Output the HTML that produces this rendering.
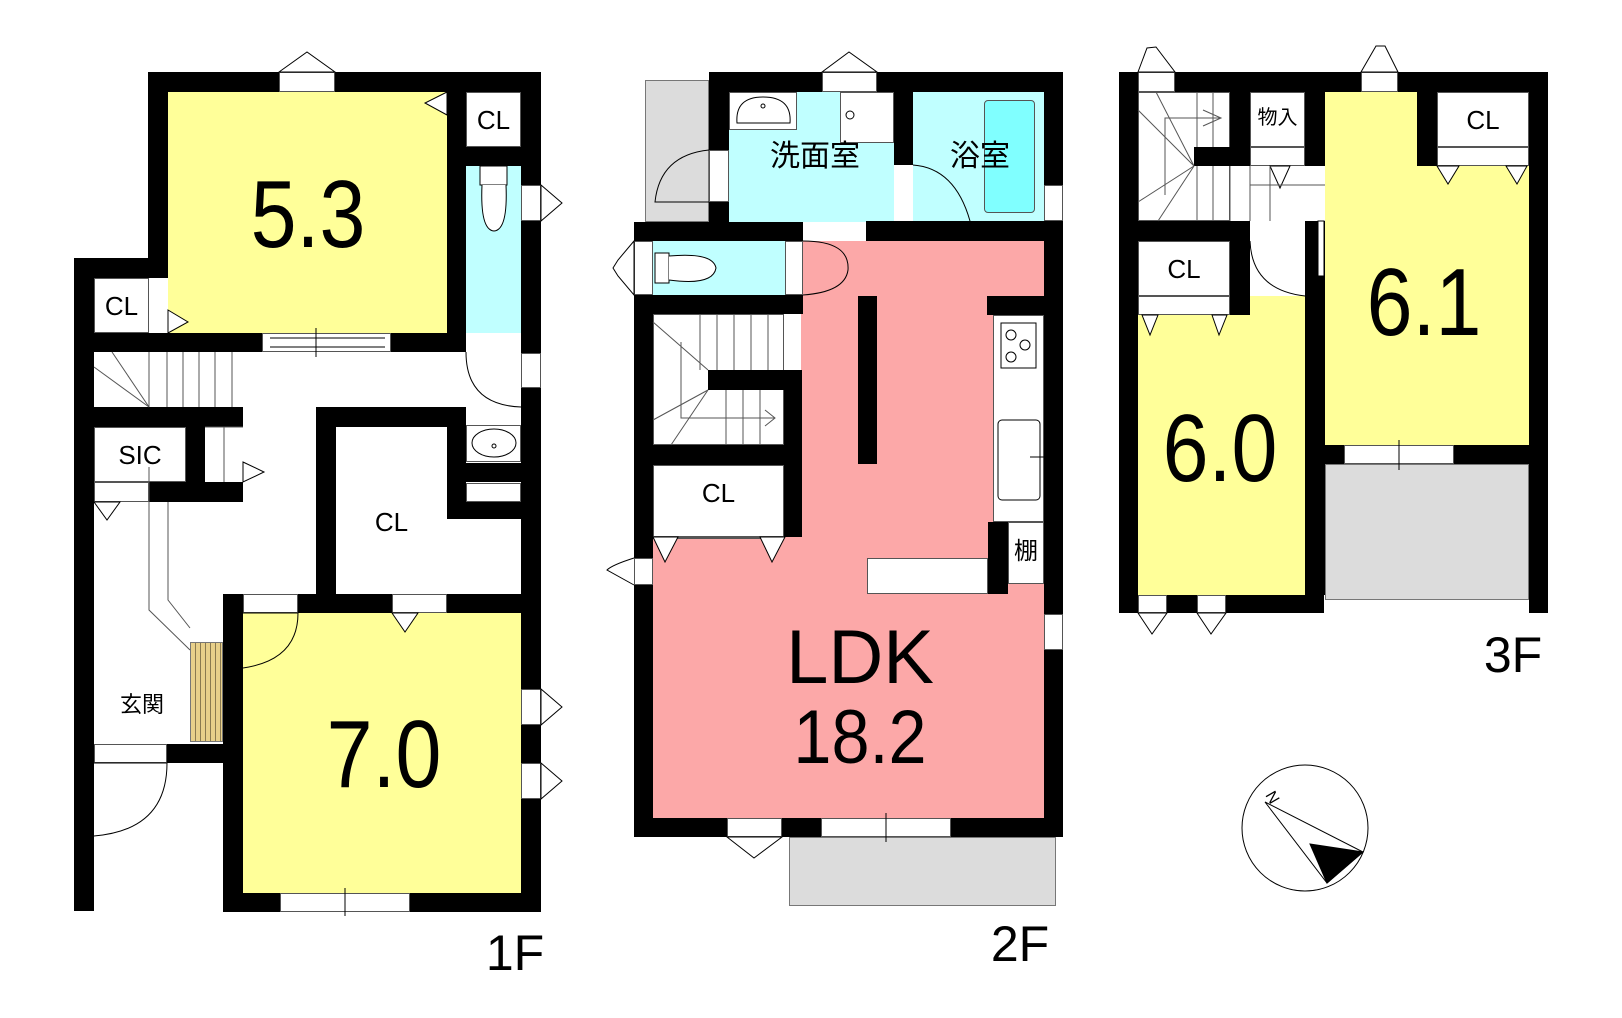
<!DOCTYPE html>
<html><head><meta charset="utf-8"><style>
*{margin:0;padding:0;box-sizing:border-box}
body{width:1622px;height:1018px;background:#fff;position:relative;overflow:hidden;font-family:"Liberation Sans","Noto Sans CJK JP",sans-serif}
div{position:absolute}
.k{background:#000}
.w{background:#fff;border:1px solid #555}
.y{background:#ffff99}
.b{background:#c0ffff}
.p{background:#fca8a8}
.g{background:#dcdcdc;border:1px solid #777}
.t{line-height:1;white-space:nowrap;text-align:center;color:#000}
.n{font-size:96px;transform:scaleX(0.86)}
.cl{font-size:26px}
svg{position:absolute;left:0;top:0}
</style></head><body>

<!-- ============ 1F ============ -->
<div class="y" style="left:168px;top:92px;width:279px;height:241px"></div>
<div class="w" style="left:466px;top:92px;width:55px;height:55px"></div>
<div class="b" style="left:466px;top:166px;width:55px;height:167px"></div>
<div class="w" style="left:94px;top:278px;width:55px;height:55px"></div>
<div class="w" style="left:94px;top:427px;width:92px;height:55px"></div>
<div class="y" style="left:243px;top:613px;width:278px;height:280px"></div>
<div style="left:190px;top:642px;width:33px;height:100px;background:repeating-linear-gradient(90deg,#e8d08a 0,#e8d08a 4px,#8a7a50 4px,#8a7a50 5px);border:1px solid #777"></div>

<div class="k" style="left:148px;top:72px;width:393px;height:20px"></div>
<div class="k" style="left:148px;top:72px;width:20px;height:206px"></div>
<div class="k" style="left:74px;top:258px;width:94px;height:20px"></div>
<div class="k" style="left:74px;top:258px;width:20px;height:653px"></div>
<div class="k" style="left:521px;top:72px;width:20px;height:840px"></div>
<div class="k" style="left:447px;top:92px;width:19px;height:260px"></div>
<div class="k" style="left:466px;top:147px;width:55px;height:19px"></div>
<div class="k" style="left:74px;top:333px;width:373px;height:19px"></div>
<div class="k" style="left:94px;top:407px;width:149px;height:20px"></div>
<div class="k" style="left:186px;top:427px;width:19px;height:55px"></div>
<div class="k" style="left:149px;top:482px;width:94px;height:20px"></div>
<div class="k" style="left:316px;top:407px;width:20px;height:187px"></div>
<div class="k" style="left:316px;top:407px;width:150px;height:20px"></div>
<div class="k" style="left:447px;top:407px;width:19px;height:112px"></div>
<div class="k" style="left:447px;top:463px;width:74px;height:19px"></div>
<div class="k" style="left:447px;top:502px;width:74px;height:17px"></div>
<div class="w" style="left:466px;top:483px;width:55px;height:19px"></div>
<div class="k" style="left:223px;top:594px;width:318px;height:19px"></div>
<div class="k" style="left:223px;top:594px;width:20px;height:318px"></div>
<div class="k" style="left:223px;top:893px;width:318px;height:19px"></div>
<div class="k" style="left:167px;top:744px;width:56px;height:19px"></div>

<!-- 1F openings -->
<div class="w" style="left:279px;top:72px;width:56px;height:20px"></div>
<div class="w" style="left:262px;top:333px;width:129px;height:19px"></div>
<div class="w" style="left:521px;top:185px;width:20px;height:36px"></div>
<div class="w" style="left:521px;top:353px;width:20px;height:35px"></div>
<div class="w" style="left:521px;top:689px;width:20px;height:36px"></div>
<div class="w" style="left:521px;top:763px;width:20px;height:36px"></div>
<div class="w" style="left:243px;top:594px;width:55px;height:19px"></div>
<div class="w" style="left:392px;top:594px;width:55px;height:19px"></div>
<div class="w" style="left:280px;top:893px;width:130px;height:19px"></div>
<div class="w" style="left:94px;top:744px;width:73px;height:19px"></div>
<div class="w" style="left:94px;top:482px;width:55px;height:20px"></div>
<div class="w" style="left:466px;top:425px;width:55px;height:37px"></div>

<!-- ============ 2F ============ -->
<div class="g" style="left:645px;top:80px;width:64px;height:142px"></div>
<div class="g" style="left:789px;top:837px;width:267px;height:69px"></div>
<div class="b" style="left:729px;top:92px;width:165px;height:130px"></div>
<div class="w" style="left:729px;top:92px;width:68px;height:38px"></div>
<div class="w" style="left:840px;top:92px;width:54px;height:51px"></div>
<div class="b" style="left:913px;top:92px;width:131px;height:129px"></div>
<div style="left:984px;top:100px;width:51px;height:113px;background:#80ffff;border:1px solid #555;border-radius:4px"></div>
<div class="p" style="left:801px;top:241px;width:244px;height:300px"></div>
<div class="p" style="left:653px;top:537px;width:392px;height:281px"></div>
<div class="b" style="left:653px;top:241px;width:132px;height:54px"></div>
<div class="w" style="left:653px;top:314px;width:131px;height:131px"></div>
<div class="w" style="left:653px;top:465px;width:131px;height:72px"></div>
<div class="w" style="left:993px;top:315px;width:51px;height:207px"></div>
<div class="w" style="left:1008px;top:522px;width:36px;height:62px"></div>
<div class="w" style="left:867px;top:558px;width:121px;height:36px"></div>

<div class="k" style="left:709px;top:72px;width:354px;height:20px"></div>
<div class="k" style="left:709px;top:72px;width:20px;height:150px"></div>
<div class="k" style="left:894px;top:92px;width:19px;height:73px"></div>
<div class="k" style="left:1044px;top:72px;width:19px;height:765px"></div>
<div class="k" style="left:866px;top:221px;width:197px;height:20px"></div>
<div class="k" style="left:634px;top:222px;width:169px;height:19px"></div>
<div class="k" style="left:634px;top:222px;width:19px;height:615px"></div>
<div class="k" style="left:634px;top:295px;width:169px;height:19px"></div>
<div class="k" style="left:708px;top:370px;width:94px;height:20px"></div>
<div class="k" style="left:784px;top:370px;width:18px;height:167px"></div>
<div class="k" style="left:634px;top:445px;width:168px;height:20px"></div>
<div class="k" style="left:987px;top:296px;width:57px;height:19px"></div>
<div class="k" style="left:988px;top:522px;width:20px;height:72px"></div>
<div class="k" style="left:858px;top:296px;width:19px;height:168px"></div>
<div class="k" style="left:634px;top:818px;width:429px;height:19px"></div>

<div class="w" style="left:822px;top:72px;width:55px;height:20px"></div>
<div class="w" style="left:1044px;top:185px;width:19px;height:36px"></div>
<div class="w" style="left:1044px;top:614px;width:19px;height:36px"></div>
<div class="w" style="left:709px;top:150px;width:20px;height:52px"></div>
<div class="w" style="left:634px;top:241px;width:19px;height:54px"></div>
<div class="w" style="left:785px;top:241px;width:18px;height:54px"></div>
<div class="w" style="left:634px;top:558px;width:19px;height:27px"></div>
<div class="w" style="left:727px;top:818px;width:55px;height:19px"></div>
<div class="w" style="left:821px;top:818px;width:130px;height:19px"></div>
<div class="w" style="left:653px;top:537px;width:131px;height:0px"></div>

<!-- ============ 3F ============ -->
<div class="y" style="left:1325px;top:92px;width:204px;height:353px"></div>
<div class="y" style="left:1138px;top:315px;width:167px;height:280px"></div>
<div class="y" style="left:1250px;top:296px;width:55px;height:20px"></div>
<div class="g" style="left:1325px;top:464px;width:204px;height:136px"></div>
<div class="w" style="left:1138px;top:92px;width:92px;height:129px"></div>
<div class="w" style="left:1250px;top:92px;width:55px;height:55px"></div>
<div class="w" style="left:1250px;top:147px;width:55px;height:19px"></div>
<div class="w" style="left:1138px;top:241px;width:92px;height:55px"></div>
<div class="w" style="left:1138px;top:296px;width:92px;height:19px"></div>
<div class="w" style="left:1437px;top:92px;width:92px;height:55px"></div>
<div class="w" style="left:1437px;top:147px;width:92px;height:19px"></div>

<div class="k" style="left:1119px;top:72px;width:429px;height:20px"></div>
<div class="k" style="left:1119px;top:72px;width:19px;height:541px"></div>
<div class="k" style="left:1529px;top:72px;width:19px;height:541px"></div>
<div class="k" style="left:1119px;top:595px;width:205px;height:18px"></div>
<div class="k" style="left:1230px;top:92px;width:20px;height:74px"></div>
<div class="k" style="left:1194px;top:147px;width:56px;height:19px"></div>
<div class="k" style="left:1305px;top:92px;width:20px;height:74px"></div>
<div class="k" style="left:1138px;top:221px;width:112px;height:20px"></div>
<div class="k" style="left:1230px;top:221px;width:20px;height:94px"></div>
<div class="k" style="left:1305px;top:221px;width:20px;height:374px"></div>
<div class="k" style="left:1417px;top:92px;width:20px;height:74px"></div>
<div class="k" style="left:1325px;top:445px;width:204px;height:19px"></div>
<div class="w" style="left:1344px;top:445px;width:110px;height:19px"></div>
<div class="w" style="left:1138px;top:72px;width:37px;height:20px"></div>
<div class="w" style="left:1361px;top:72px;width:37px;height:20px"></div>
<div class="w" style="left:1138px;top:595px;width:29px;height:18px"></div>
<div class="w" style="left:1197px;top:595px;width:29px;height:18px"></div>

<!-- SVG details -->
<svg width="1622" height="1018" viewBox="0 0 1622 1018" fill="#fff" stroke="#000" stroke-width="1">
<!-- 1F window triangles -->
<polygon points="279,72 307,52 335,72"/>
<polygon points="541,185 562,203 541,221"/>
<polygon points="541,689 562,707 541,725"/>
<polygon points="541,763 562,781 541,799"/>
<polygon points="447,92 425,103 447,115"/>
<polygon points="168,310 188,322 168,333"/>
<polygon points="243,462 264,472 243,482"/>
<polygon points="392,613 405,632 418,613"/>
<polygon points="94,502 107,520 120,502"/>
<line x1="316" y1="328" x2="316" y2="357"/><line x1="270" y1="338" x2="385" y2="338"/><line x1="270" y1="347" x2="385" y2="347"/>
<line x1="345" y1="888" x2="345" y2="916"/>
<!-- toilet 1F -->
<rect x="480" y="166" width="27" height="19"/><path d="M482,185 Q480,230 494,231 Q508,230 506,185"/>
<!-- door arcs 1F -->
<path d="M466,352 Q466,405 521,407" fill="none"/>
<path d="M243,613 L298,613 Q298,660 243,668" fill="none"/>
<path d="M94,763 L167,763 Q167,830 94,836" fill="none"/>
<ellipse cx="494" cy="443" rx="22" ry="14" fill="none"/><circle cx="494" cy="446" r="2"/>
<!-- 1F stairs -->
<g fill="none" stroke="#555">
<line x1="149" y1="352" x2="149" y2="407"/><line x1="167" y1="352" x2="167" y2="407"/><line x1="183" y1="352" x2="183" y2="407"/><line x1="199" y1="352" x2="199" y2="407"/><line x1="215" y1="352" x2="215" y2="407"/><line x1="232" y1="352" x2="232" y2="407"/>
<line x1="112" y1="352" x2="149" y2="407"/><line x1="94" y1="367" x2="149" y2="407"/>
<polyline points="149,467 149,610 190,650"/><polyline points="168,502 168,600 190,628"/>
<line x1="205" y1="427" x2="243" y2="427"/><line x1="224" y1="427" x2="224" y2="482"/>
</g>
<!-- 2F triangles -->
<polygon points="822,72 849,52 877,72"/>
<polygon points="634,241 618,260 613,268 618,276 634,295"/>
<polygon points="653,537 665,562 678,537"/>
<polygon points="760,537 772,562 785,537"/>
<polygon points="727,837 754,858 782,837"/>
<line x1="886" y1="813" x2="886" y2="842"/>
<path d="M634,558 Q612,565 607,570 L634,585" fill="#fff"/>
<path d="M709,150 Q660,155 655,202 L709,202" fill="none"/>
<path d="M913,165 Q955,168 970,221" fill="none"/>
<path d="M803,241 Q850,241 848,270 Q845,292 803,295" fill="none"/>
<!-- 2F toilet & sink -->
<rect x="655" y="253" width="14" height="30"/><path d="M669,256 Q713,252 716,268 Q713,286 669,280"/>
<path d="M737,123 Q735,97 763,97 Q792,97 790,123 Z" fill="none"/><circle cx="763" cy="106" r="2"/>
<circle cx="850" cy="115" r="4" fill="none"/>
<line x1="729" y1="226" x2="803" y2="226" stroke-dasharray="2,2"/>
<!-- 2F stairs -->
<g fill="none" stroke="#555">
<line x1="700" y1="314" x2="700" y2="370"/><line x1="717" y1="314" x2="717" y2="370"/><line x1="734" y1="314" x2="734" y2="370"/><line x1="751" y1="314" x2="751" y2="370"/><line x1="768" y1="314" x2="768" y2="370"/>
<line x1="726" y1="390" x2="726" y2="445"/><line x1="743" y1="390" x2="743" y2="445"/><line x1="760" y1="390" x2="760" y2="445"/>
<line x1="653" y1="322" x2="708" y2="370"/><line x1="653" y1="420" x2="708" y2="390"/><line x1="671" y1="445" x2="708" y2="390"/>
<polyline points="681,342 681,418 775,418"/><polyline points="765,410 775,418 765,426"/>
</g>
<!-- kitchen -->
<rect x="1001" y="323" width="35" height="45" fill="none"/>
<circle cx="1011" cy="335" r="5" fill="none"/><circle cx="1025" cy="345" r="5" fill="none"/><circle cx="1011" cy="357" r="5" fill="none"/>
<rect x="998" y="420" width="42" height="80" rx="4" fill="none"/><line x1="1030" y1="457" x2="1044" y2="457"/>
<!-- 3F -->
<polygon points="1138,72 1147,48 1156,47 1175,72"/>
<polygon points="1361,72 1376,46 1385,46 1398,72"/>
<polygon points="1138,613 1152,634 1167,613"/>
<polygon points="1197,613 1211,634 1226,613"/>
<polygon points="1437,166 1448,184 1459,166"/>
<polygon points="1506,166 1517,184 1527,166"/>
<polygon points="1142,315 1150,335 1158,315"/>
<polygon points="1212,315 1219,335 1227,315"/>
<polygon points="1270,166 1280,188 1290,166"/>
<line x1="1399" y1="440" x2="1399" y2="470"/>
<path d="M1250,241 Q1252,290 1305,296" fill="none"/>
<rect x="1318" y="221" width="6" height="55" fill="#fff"/>
<g fill="none" stroke="#555">
<line x1="1197" y1="92" x2="1197" y2="147"/><line x1="1213" y1="92" x2="1213" y2="147"/>
<line x1="1197" y1="166" x2="1197" y2="221"/><line x1="1213" y1="166" x2="1213" y2="221"/><line x1="1230" y1="166" x2="1230" y2="221"/><line x1="1250" y1="166" x2="1250" y2="221"/><line x1="1270" y1="166" x2="1270" y2="221"/>
<line x1="1138" y1="110" x2="1194" y2="166"/><line x1="1156" y1="92" x2="1194" y2="166"/><line x1="1138" y1="202" x2="1194" y2="166"/><line x1="1158" y1="221" x2="1194" y2="166"/>
<polyline points="1165,195 1165,118 1221,118"/><polyline points="1203,110 1221,118 1203,126"/>
<line x1="1250" y1="185" x2="1325" y2="185"/>
</g>
<!-- compass -->
<ellipse cx="1305" cy="828" rx="63" ry="63" fill="#fff"/>
<polygon points="1265,802 1363,852 1327,883" fill="#fff"/>
<polygon points="1310,844 1363,852 1327,883" fill="#000"/>
<text x="1265" y="795" font-family="Liberation Sans" font-size="16" fill="#000" stroke="none" transform="rotate(60 1265 795)">N</text>
</svg>

<!-- text -->
<div class="t n" style="left:228px;top:167px;width:160px">5.3</div>
<div class="t n" style="left:304px;top:707px;width:160px">7.0</div>
<div class="t n" style="left:1344px;top:255px;width:160px">6.1</div>
<div class="t n" style="left:1140px;top:401px;width:160px">6.0</div>
<div class="t cl" style="left:466px;top:107px;width:55px">CL</div>
<div class="t cl" style="left:94px;top:293px;width:55px">CL</div>
<div class="t cl" style="left:94px;top:442px;width:92px">SIC</div>
<div class="t cl" style="left:336px;top:509px;width:111px">CL</div>
<div class="t" style="left:110px;top:694px;width:64px;font-size:22px">玄関</div>
<div class="t" style="left:480px;top:928px;width:70px;font-size:50px">1F</div>
<div class="t" style="left:735px;top:142px;width:160px;font-size:30px">洗面室</div>
<div class="t" style="left:935px;top:142px;width:90px;font-size:30px">浴室</div>
<div class="t cl" style="left:653px;top:480px;width:131px">CL</div>
<div class="t" style="left:1008px;top:540px;width:36px;font-size:24px">棚</div>
<div class="t" style="left:740px;top:620px;width:240px;font-size:76px">LDK</div>
<div class="t" style="left:760px;top:700px;width:200px;font-size:76px;transform:scaleX(0.9)">18.2</div>
<div class="t" style="left:985px;top:919px;width:70px;font-size:50px">2F</div>
<div class="t" style="left:1250px;top:108px;width:55px;font-size:20px">物入</div>
<div class="t cl" style="left:1437px;top:107px;width:92px">CL</div>
<div class="t cl" style="left:1138px;top:256px;width:92px">CL</div>
<div class="t" style="left:1478px;top:630px;width:70px;font-size:50px">3F</div>
</body></html>
